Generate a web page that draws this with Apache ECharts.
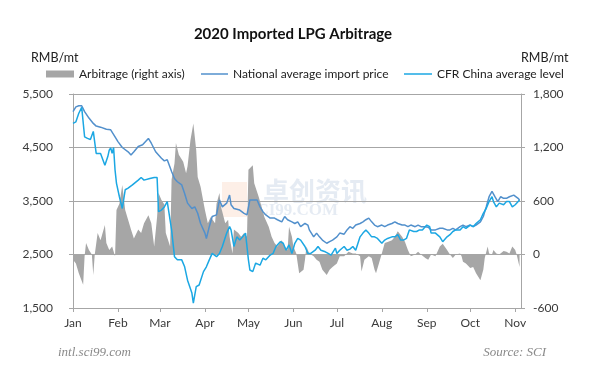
<!DOCTYPE html>
<html><head><meta charset="utf-8">
<script src="https://cdn.jsdelivr.net/npm/echarts@6/dist/echarts.min.js"></script>
<style>html,body{margin:0;padding:0;background:#fff}#c{width:608px;height:368px}</style>
</head><body><div id="c"></div>
<script>
const chartTitle = '2020 Imported LPG Arbitrage';
const monthLabels = ['Jan','Feb','Mar','Apr','May','Jun','Jul','Aug','Sep','Oct','Nov'];
const monthStarts = ['01-01','02-01','03-01','04-01','05-01','06-01','07-01','08-01','09-01','10-01','11-01'];
const axisEnd = '11-05';
const leftTicks = [1500,2500,3500,4500,5500];
const rightTicks = [-600,0,600,1200,1800];
const seriesNames = ['Arbitrage (right axis)','National average import price','CFR China average level'];

const natDates = ['01-01','01-03','01-05','01-07','01-09','01-12','01-15','01-17','01-20','01-24','01-27','01-30','02-01','02-04','02-08','02-10','02-12','02-15','02-18','02-22','02-24','02-27','03-02','03-04','03-06','03-09','03-11','03-13','03-16','03-18','03-20','03-23','03-25','03-27','03-29','04-01','04-02','04-04','04-06','04-09','04-11','04-13','04-16','04-18','04-19','04-21','04-25','04-28','04-30','05-02','05-05','05-07','05-09','05-11','05-13','05-16','05-19','05-21','05-24','05-26','05-28','05-31','06-02','06-04','06-06','06-09','06-11','06-12','06-15','06-17','06-19','06-21','06-24','06-26','06-28','07-01','07-03','07-06','07-08','07-10','07-12','07-14','07-17','07-19','07-21','07-23','07-25','07-27','07-29','08-01','08-03','08-05','08-08','08-10','08-12','08-15','08-17','08-19','08-21','08-24','08-26','08-28','08-31','09-02','09-04','09-07','09-10','09-12','09-15','09-17','09-19','09-21','09-24','09-26','09-28','10-01','10-03','10-05','10-08','10-10','10-12','10-14','10-16','10-18','10-20','10-22','10-24','10-26','10-28','10-31','11-01','11-03','11-04'];
const natValues = [5170,5260,5280,5280,5170,5050,4950,4900,4880,4840,
4830,4700,4610,4500,4420,4360,4420,4520,4550,4670,
4580,4420,4300,4250,4270,4050,3920,3860,3800,3640,
3460,3360,3390,3270,3080,2900,2800,3020,3210,3240,
3520,3390,3460,3610,3430,3360,3330,3270,3240,3520,
3520,3520,3390,3300,3240,3180,3180,3150,3110,3210,
3150,3110,3080,3110,3020,3080,3050,2960,2830,2900,
2830,2770,2710,2740,2770,2830,2900,2880,2960,3020,
2990,3050,3080,3110,3150,3180,3110,3050,3020,3050,
3020,3050,3080,3110,3080,3050,3050,3020,3050,3020,
3050,3020,3020,3010,2960,2960,2990,2990,2960,2960,
2990,2960,3020,3050,3020,3050,3020,3050,3110,3210,
3390,3580,3680,3580,3490,3580,3550,3550,3580,3610,
3580,3550,3520];

const cfrDates = ['01-01','01-03','01-05','01-07','01-09','01-11','01-13','01-15','01-17','01-18','01-20','01-23','01-25','01-26','01-27','01-28','01-29','01-30','01-31','02-02','02-04','02-06','02-08','02-11','02-15','02-17','02-19','02-23','02-26','02-28','02-29','03-02','03-04','03-06','03-09','03-11','03-13','03-16','03-18','03-20','03-23','03-24','03-26','03-28','03-31','04-02','04-04','04-06','04-09','04-11','04-13','04-16','04-18','04-19','04-21','04-23','04-25','04-27','04-29','05-01','05-02','05-04','05-06','05-09','05-11','05-13','05-16','05-18','05-20','05-23','05-25','05-27','05-29','05-31','06-02','06-04','06-06','06-09','06-11','06-13','06-16','06-18','06-20','06-23','06-25','06-27','06-30','07-01','07-03','07-06','07-08','07-10','07-12','07-14','07-17','07-19','07-21','07-23','07-25','07-27','07-29','08-01','08-03','08-05','08-08','08-10','08-12','08-14','08-16','08-18','08-20','08-23','08-25','08-27','08-29','09-01','09-03','09-04','09-07','09-10','09-12','09-15','09-17','09-19','09-21','09-24','09-26','09-28','10-01','10-03','10-05','10-08','10-10','10-12','10-14','10-16','10-17','10-19','10-21','10-24','10-26','10-28','10-30','11-01','11-02','11-04'];
const cfrValues = [4950,4980,5140,5250,4700,4670,4650,4800,4390,4360,
4390,4170,4330,4450,4490,4390,4500,4080,3830,3580,
3360,3710,3740,3800,3890,3940,3890,3920,3940,3940,
3300,3330,3390,3490,2960,2460,2400,2400,2270,2020,
1780,1590,1900,1930,2180,2270,2400,2520,2460,2520,
2650,2900,3020,2960,2650,2830,2770,2830,2900,2400,
2210,2180,2340,2300,2430,2400,2490,2520,2650,2740,
2710,2580,2680,2520,2710,2800,2770,2650,2520,2520,
2580,2650,2580,2550,2520,2490,2620,2520,2580,2650,
2580,2600,2650,2580,2830,2900,2960,2900,2830,2830,
2800,2710,2770,2800,2830,2830,2870,2770,2770,2800,
2960,2930,2930,2960,2960,3050,3020,2900,2900,2830,
2740,2830,2870,2930,2960,2960,3020,2990,3050,3020,
3080,3150,3270,3360,3490,3580,3490,3390,3460,3430,
3490,3490,3390,3430,3460,3520];

const arbDates = ['01-01','01-03','01-05','01-08','01-09','01-10','01-12','01-14','01-15','01-16','01-18','01-20','01-23','01-24','01-26','01-28','01-30','01-31','02-02','02-04','02-06','02-08','02-10','02-12','02-15','02-17','02-19','02-22','02-24','02-26','02-28','02-29','03-02','03-04','03-05','03-08','03-09','03-11','03-12','03-14','03-17','03-19','03-20','03-22','03-24','03-26','03-27','03-29','04-01','04-03','04-05','04-08','04-09','04-11','04-12','04-15','04-17','04-18','04-20','04-21','04-24','04-26','04-28','04-30','05-01','05-04','05-05','05-08','05-10','05-12','05-15','05-17','05-19','05-21','05-24','05-26','05-28','05-29','05-31','06-01','06-03','06-04','06-05','06-08','06-09','06-10','06-12','06-15','06-17','06-19','06-21','06-24','06-26','06-28','07-01','07-03','07-06','07-09','07-12','07-14','07-17','07-18','07-20','07-23','07-25','07-27','07-28','07-30','08-01','08-03','08-05','08-08','08-10','08-12','08-15','08-17','08-19','08-21','08-24','08-26','08-28','08-31','09-02','09-04','09-07','09-10','09-12','09-15','09-17','09-19','09-21','09-24','09-25','09-26','09-28','10-01','10-03','10-05','10-08','10-09','10-10','10-11','10-13','10-14','10-16','10-17','10-19','10-21','10-24','10-26','10-28','10-30','11-01','11-02','11-04'];
const arbValues = [-60,-100,-210,-340,-20,130,50,0,-230,0,
240,160,330,130,50,90,-20,500,570,780,
500,390,280,180,280,240,350,440,350,90,
420,690,610,560,240,90,840,1020,1250,1120,
1040,910,990,1280,1470,1170,870,760,500,350,
420,350,570,690,540,350,390,200,10,280,
240,200,240,200,950,1000,800,650,540,420,
310,200,130,90,160,90,50,310,200,90,
10,-100,-210,-170,-60,90,10,-20,-60,-80,
-170,-230,-170,-140,-100,-20,-20,30,10,10,
-20,-190,-60,-20,-40,-170,-210,-100,10,130,
140,160,200,260,200,140,50,-20,0,30,
0,-40,-60,0,-20,90,120,50,0,-40,
0,10,-20,-80,-100,-150,-140,-210,-290,-300,
-170,-40,90,10,0,50,10,0,40,30,
10,90,50,0,-140];

function dayOf(md){const p=md.split('-').map(Number);return (Date.UTC(2020,p[0]-1,p[1])-Date.UTC(2020,0,1))/864e5;}
function pairs(ds,vs){return ds.map((d,i)=>[dayOf(d),vs[i]]);}
function fmt(v){return v.toLocaleString('en-US');}
const monthDays = monthStarts.map(dayOf);
const FONT = 'Lato';
const AX = '#A6A6A6';
const TXT = '#3a3a3a';
const NAT = '#5290CC';
const CFR = '#1BA7E3';
const ARB = '#A6A6A6';

const chart = echarts.init(document.getElementById('c'), null, {renderer:'canvas'});
const legendText = {fontFamily:FONT,fontSize:12,color:'#222'};
chart.setOption({
  animation:false,
  backgroundColor:'#fff',
  title:{text:chartTitle,left:288,top:22,textAlign:'center',textStyle:{fontFamily:FONT,fontWeight:'bold',fontSize:15,color:'#111'}},
  legend:[
    {data:[{name:seriesNames[0],icon:'rect',itemStyle:{color:ARB}}],left:41,top:63,itemWidth:28,itemHeight:7,itemGap:4,textStyle:legendText},
    {data:[{name:seriesNames[1],icon:'rect',itemStyle:{color:NAT}}],left:196,top:63,itemWidth:27,itemHeight:1.5,textStyle:legendText},
    {data:[{name:seriesNames[2],icon:'rect',itemStyle:{color:CFR}}],left:399,top:63,itemWidth:28,itemHeight:1.5,textStyle:legendText}
  ],
  grid:{left:73,right:87,top:94,bottom:60,containLabel:false},
  xAxis:{type:'value',min:0,max:dayOf(axisEnd),
    axisLine:{show:true,onZero:false,lineStyle:{color:AX,width:1}},
    axisTick:{show:true,customValues:monthDays,length:4,lineStyle:{color:AX}},
    axisLabel:{customValues:monthDays,formatter:v=>monthLabels[monthDays.indexOf(v)]||'',margin:9,fontFamily:FONT,fontSize:12,color:TXT},
    splitLine:{show:false}},
  yAxis:[
    {type:'value',min:leftTicks[0],max:leftTicks[leftTicks.length-1],interval:1000,position:'left',
     axisLine:{show:true,lineStyle:{color:AX}},axisTick:{show:true,length:4,lineStyle:{color:AX}},
     axisLabel:{formatter:fmt,margin:20,fontFamily:FONT,fontSize:12,color:TXT},
     splitLine:{show:true,lineStyle:{color:AX,width:1}}},
    {type:'value',min:rightTicks[0],max:rightTicks[rightTicks.length-1],interval:600,position:'right',
     axisLine:{show:true,lineStyle:{color:AX}},axisTick:{show:true,length:4,lineStyle:{color:AX}},
     axisLabel:{formatter:fmt,margin:12,fontFamily:FONT,fontSize:12,color:TXT},
     splitLine:{show:false}}
  ],
  graphic:[
    {type:'rect',left:222,top:182,shape:{width:25,height:35},style:{fill:'rgba(250,215,195,0.4)'},z:0,silent:true},
    {type:'text',left:263,top:178,style:{text:'卓创资讯',font:'bold 26px "Noto Sans CJK SC"',fill:'rgba(190,205,225,0.4)'},z:0,silent:true},
    {type:'text',left:247,top:202,style:{text:'SCI99.COM',font:'bold 17px "Liberation Serif"',fill:'rgba(190,205,225,0.4)'},z:0,silent:true},
    {type:'text',left:31,top:51,style:{text:'RMB/mt',font:'12.5px '+FONT,fill:'#222'}},
    {type:'text',left:521,top:51,style:{text:'RMB/mt',font:'12.5px '+FONT,fill:'#222'}},
    {type:'text',left:58,top:346,style:{text:'intl.sci99.com',font:'italic 13px "Liberation Serif"',fill:'#8a8a8a'}},
    {type:'text',right:62,top:346,style:{text:'Source: SCI',font:'italic 13px "Liberation Serif"',fill:'#8a8a8a'}}
  ],
  series:[
    {name:seriesNames[0],type:'line',yAxisIndex:1,data:pairs(arbDates,arbValues),symbol:'none',
     lineStyle:{width:0},itemStyle:{color:ARB},areaStyle:{color:ARB,opacity:1},z:1},
    {name:seriesNames[1],type:'line',data:pairs(natDates,natValues),symbol:'none',
     lineStyle:{width:1.5,color:NAT},itemStyle:{color:NAT},z:3},
    {name:seriesNames[2],type:'line',data:pairs(cfrDates,cfrValues),symbol:'none',
     lineStyle:{width:1.5,color:CFR},itemStyle:{color:CFR},z:4}
  ]
});
</script></body></html>
